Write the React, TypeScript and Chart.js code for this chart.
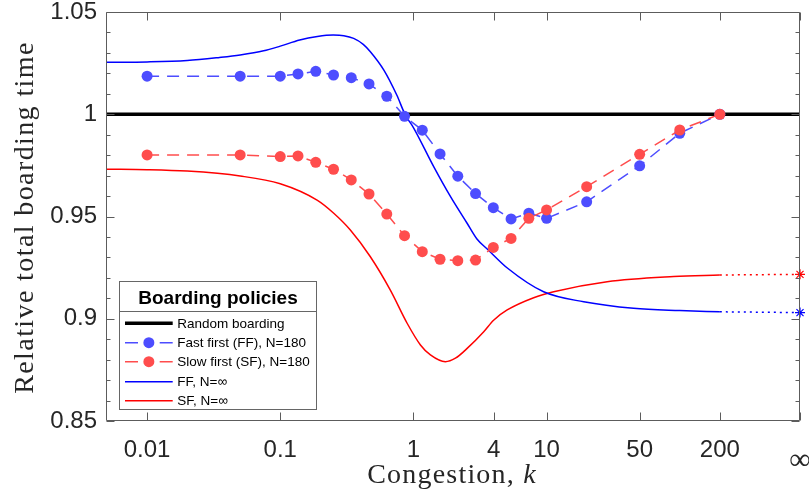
import React, { useEffect, useRef } from 'react';
import { Chart, registerables } from 'chart.js';

Chart.register(...registerables);

// Congestion values k where the N=180 simulations were run
const kPoints = [0.01, 0.05, 0.1, 0.1359, 0.1848, 0.2512, 0.3415, 0.4642, 0.631, 0.8577, 1.1659, 1.5849, 2.1544, 2.9286, 3.9811, 5.4117, 7.3564, 10, 20, 50, 100, 200];
const ffN180 = [1.0186, 1.0186, 1.0186, 1.0197, 1.021, 1.0192, 1.0179, 1.0148, 1.0088, 0.999, 0.9922, 0.9806, 0.9697, 0.9612, 0.9543, 0.9488, 0.9516, 0.9491, 0.9572, 0.9748, 0.9907, 1.0];
const sfN180 = [0.9801, 0.9801, 0.9793, 0.9796, 0.9765, 0.9731, 0.9679, 0.961, 0.9512, 0.9406, 0.9328, 0.9291, 0.9284, 0.9287, 0.9349, 0.9393, 0.9491, 0.9532, 0.9646, 0.9804, 0.9923, 1.0];

// N = infinity theory curves
const ffInfK = [0.005, 0.01, 0.02, 0.035, 0.05, 0.075, 0.1, 0.14, 0.19, 0.25, 0.3, 0.356, 0.42, 0.475, 0.6, 0.75, 0.87, 1.0, 1.42, 1.9, 2.53, 3.0, 3.6, 5.1, 9.5, 19, 45, 100, 200];
const ffInfVal = [1.0254, 1.0256, 1.0263, 1.0278, 1.029, 1.031, 1.0333, 1.0363, 1.038, 1.0387, 1.0384, 1.0371, 1.0342, 1.0306, 1.0216, 1.0094, 0.9996, 0.9935, 0.9744, 0.9597, 0.9467, 0.939, 0.934, 0.9247, 0.9132, 0.9083, 0.9051, 0.904, 0.9034];
const sfInfK = [0.005, 0.01, 0.02, 0.05, 0.1, 0.189, 0.251, 0.336, 0.475, 0.671, 0.897, 1.129, 1.342, 1.739, 2.068, 2.532, 3.374, 4.0, 5.06, 8.0, 11.3, 28.5, 90, 200];
const sfInfVal = [0.9731, 0.9729, 0.9722, 0.9698, 0.966, 0.958, 0.9517, 0.9434, 0.9303, 0.914, 0.8978, 0.8872, 0.8823, 0.879, 0.8807, 0.8855, 0.8937, 0.8993, 0.9043, 0.9103, 0.9132, 0.9181, 0.9206, 0.9214];

// dotted extension to k = infinity
const tailK = [200, 800];
const ffTail = [0.9034, 0.903];
const sfTail = [0.9214, 0.9217];

// random boarding reference
const randomK = [0.005, 800];
const randomVal = [1, 1];

const xTickValues = [0.01, 0.1, 1, 4, 10, 50, 200, 800];
const xTickLabels = ['0.01', '0.1', '1', '4', '10', '50', '200', '\u221E'];
const yTickValues = [0.85, 0.9, 0.95, 1, 1.05];
const yTickLabels = ['0.85', '0.9', '0.95', '1', '1.05'];

const legendTitle = 'Boarding policies';
const legendLabels = ['Random boarding', 'Fast first (FF), N=180', 'Slow first (SF), N=180', 'FF, N=\u221E', 'SF, N=\u221E'];
const xTitle = 'Congestion, ';
const xTitleVar = 'k';
const yTitle = 'Relative total boarding time';

const BLUE_PTS = 'rgb(77,77,255)';
const RED_PTS = 'rgb(255,77,77)';
const BLUE = 'rgb(0,0,255)';
const RED = 'rgb(255,0,0)';
const SANS = "'Liberation Sans', Arial, Helvetica, sans-serif";
const SERIF = "'Liberation Serif', 'Times New Roman', serif";

const toXY = (xs: number[], ys: number[]) => xs.map((x, i) => ({ x, y: ys[i] }));

const decorPlugin = {
  id: 'decor',
  afterDraw(chart: any) {
    const { ctx, chartArea: ca, scales } = chart;
    const xs = scales.x;
    const ys = scales.y;
    ctx.save();
    // axes box
    const L = Math.round(ca.left) - 0.5;
    const R = Math.round(ca.right) - 0.5;
    const T = Math.round(ca.top) + 0.5;
    const B = Math.round(ca.bottom) - 0.5;
    ctx.strokeStyle = '#5c5c5c';
    ctx.lineWidth = 1;
    ctx.setLineDash([]);
    ctx.beginPath();
    ctx.rect(L, T, R - L, B - T);
    ctx.stroke();
    // y ticks (major + minor), inward on both sides
    ctx.beginPath();
    for (let i = 0; i <= 20; i++) {
      const v = 0.85 + i * 0.01;
      const p = Math.round(ys.getPixelForValue(v)) + 0.5;
      const len = i % 5 === 0 ? 8 : 4;
      ctx.moveTo(L, p); ctx.lineTo(L + len, p);
      ctx.moveTo(R, p); ctx.lineTo(R - len, p);
    }
    // x ticks, inward on bottom and top
    xTickValues.forEach((v) => {
      const p = Math.round(xs.getPixelForValue(v)) + 0.5;
      ctx.moveTo(p, B); ctx.lineTo(p, B - 8);
      ctx.moveTo(p, T); ctx.lineTo(p, T + 8);
    });
    ctx.stroke();

    // axis titles
    ctx.fillStyle = '#262626';
    ctx.textBaseline = 'alphabetic';
    (ctx as any).letterSpacing = '1.2px';
    ctx.font = `28px ${SERIF}`;
    const w1 = ctx.measureText(xTitle).width;
    ctx.font = `italic 28px ${SERIF}`;
    const w2 = ctx.measureText(xTitleVar).width;
    const cx = 452;
    const sx = cx - (w1 + w2) / 2;
    ctx.font = `28px ${SERIF}`;
    ctx.textAlign = 'left';
    ctx.fillText(xTitle, sx, 483);
    ctx.font = `italic 28px ${SERIF}`;
    ctx.fillText(xTitleVar, sx + w1, 483);

    ctx.save();
    (ctx as any).letterSpacing = '1.4px';
    ctx.font = `28px ${SERIF}`;
    ctx.translate(33, 217.5);
    ctx.rotate(-Math.PI / 2);
    ctx.textAlign = 'center';
    ctx.fillText(yTitle, 0, 0);
    ctx.restore();
    (ctx as any).letterSpacing = '0px';

    // legend
    const lx0 = 119.5, ly0 = 281.5, lx1 = 316.5, ly1 = 409.5;
    ctx.fillStyle = '#ffffff';
    ctx.fillRect(lx0, ly0, lx1 - lx0, ly1 - ly0);
    ctx.strokeStyle = '#666666';
    ctx.lineWidth = 1;
    ctx.strokeRect(lx0, ly0, lx1 - lx0, ly1 - ly0);
    ctx.beginPath();
    ctx.moveTo(lx0, 311.5); ctx.lineTo(lx1, 311.5);
    ctx.stroke();
    ctx.fillStyle = '#000000';
    ctx.font = `bold 19px ${SANS}`;
    ctx.textAlign = 'center';
    ctx.fillText(legendTitle, (lx0 + lx1) / 2, 304);

    const rows = [323.3, 342.7, 361.7, 381.7, 400.7];
    const s0 = 125, s1 = 172.7, sm = (s0 + s1) / 2;
    const styles = [
      { color: '#000000', width: 3.5, kind: 'solid' },
      { color: BLUE_PTS, width: 1.5, kind: 'marker' },
      { color: RED_PTS, width: 1.5, kind: 'marker' },
      { color: BLUE, width: 1.5, kind: 'solid' },
      { color: RED, width: 1.5, kind: 'solid' },
    ];
    rows.forEach((ry, i) => {
      const st = styles[i];
      ctx.strokeStyle = st.color;
      ctx.lineWidth = st.width;
      ctx.beginPath();
      if (st.kind === 'solid') {
        ctx.moveTo(s0, ry); ctx.lineTo(s1, ry);
      } else {
        ctx.moveTo(s0, ry); ctx.lineTo(s0 + 13, ry);
        ctx.moveTo(s1 - 13, ry); ctx.lineTo(s1, ry);
      }
      ctx.stroke();
      if (st.kind === 'marker') {
        ctx.fillStyle = st.color;
        ctx.beginPath();
        ctx.arc(sm, ry, 5.5, 0, Math.PI * 2);
        ctx.fill();
      }
      ctx.fillStyle = '#000000';
      ctx.font = `13.5px ${SANS}`;
      ctx.textAlign = 'left';
      ctx.textBaseline = 'middle';
      ctx.fillText(legendLabels[i], 177.3, ry + 0.5);
    });
    ctx.restore();
  },
};

export default function App() {
  const ref = useRef<HTMLCanvasElement | null>(null);
  useEffect(() => {
    if (!ref.current) return;
    const chart = new Chart(ref.current, {
      type: 'line',
      data: {
        datasets: [
          {
            label: legendLabels[2],
            data: toXY(kPoints, sfN180),
            borderColor: RED_PTS,
            backgroundColor: RED_PTS,
            borderWidth: 1.5,
            borderDash: [12, 8],
            pointRadius: 5.5,
            pointBackgroundColor: RED_PTS,
            pointBorderColor: RED_PTS,
            pointBorderWidth: 0,
            order: 1,
            clip: false,
          } as any,
          {
            label: legendLabels[1],
            data: toXY(kPoints, ffN180),
            borderColor: BLUE_PTS,
            backgroundColor: BLUE_PTS,
            borderWidth: 1.5,
            borderDash: [12, 8],
            pointRadius: 5.5,
            pointBackgroundColor: BLUE_PTS,
            pointBorderColor: BLUE_PTS,
            pointBorderWidth: 0,
            order: 2,
            clip: false,
          },
          {
            label: legendLabels[3],
            data: toXY(ffInfK, ffInfVal),
            borderColor: BLUE,
            borderWidth: 1.5,
            pointRadius: 0,
            cubicInterpolationMode: 'monotone',
            order: 3,
          },
          {
            label: legendLabels[4],
            data: toXY(sfInfK, sfInfVal),
            borderColor: RED,
            borderWidth: 1.5,
            pointRadius: 0,
            cubicInterpolationMode: 'monotone',
            order: 3,
          },
          {
            label: 'FF tail',
            data: toXY(tailK, ffTail),
            borderColor: BLUE,
            borderWidth: 1.5,
            borderDash: [2, 4],
            pointStyle: 'star',
            pointRadius: (c: any) => (c.dataIndex === 1 ? 5 : 0),
            pointBorderColor: BLUE,
            pointBorderWidth: 1.2,
            order: 3,
            clip: false,
          },
          {
            label: 'SF tail',
            data: toXY(tailK, sfTail),
            borderColor: RED,
            borderWidth: 1.5,
            borderDash: [2, 4],
            pointStyle: 'star',
            pointRadius: (c: any) => (c.dataIndex === 1 ? 5 : 0),
            pointBorderColor: RED,
            pointBorderWidth: 1.2,
            order: 3,
            clip: false,
          },
          {
            label: legendLabels[0],
            data: toXY(randomK, randomVal),
            borderColor: '#000000',
            borderWidth: 3.5,
            pointRadius: 0,
            order: 4,
          },
        ],
      },
      options: {
        animation: false,
        responsive: false,
        events: [],
        layout: { padding: { left: 0, top: 12, right: 9, bottom: 0 } },
        plugins: {
          legend: { display: false },
          tooltip: { enabled: false },
        },
        scales: {
          x: {
            type: 'logarithmic',
            min: 0.005,
            max: 800,
            grid: { display: false, drawTicks: false },
            border: { display: false },
            afterBuildTicks: (s: any) => {
              s.ticks = xTickValues.map((v) => ({ value: v }));
            },
            afterFit: (s: any) => {
              s.height = 80;
              s.paddingLeft = 0;
              s.paddingRight = 0;
            },
            ticks: {
              autoSkip: false,
              maxRotation: 0,
              minRotation: 0,
              padding: 15,
              color: '#262626',
              font: (c: any) =>
                c.tick && c.tick.value === 800
                  ? { family: SERIF, size: 30, lineHeight: 1.65 }
                  : { family: SANS, size: 24 },
              callback: (_v: any, i: number) => xTickLabels[i],
            },
          },
          y: {
            type: 'linear',
            min: 0.85,
            max: 1.05,
            grid: { display: false, drawTicks: false },
            border: { display: false },
            afterBuildTicks: (s: any) => {
              s.ticks = yTickValues.map((v) => ({ value: v }));
            },
            afterFit: (s: any) => {
              s.width = 107;
              s.paddingTop = 0;
              s.paddingBottom = 0;
            },
            ticks: {
              autoSkip: false,
              padding: 10,
              color: '#262626',
              font: { family: SANS, size: 24 },
              callback: (_v: any, i: number) => yTickLabels[i],
            },
          },
        },
      },
      plugins: [decorPlugin],
    } as any);
    return () => chart.destroy();
  }, []);

  return (
    <div style={{ position: 'absolute', left: 0, top: 0, width: 809, height: 501, background: '#fff' }}>
      <canvas ref={ref} width={809} height={501} style={{ display: 'block' }} />
    </div>
  );
}
